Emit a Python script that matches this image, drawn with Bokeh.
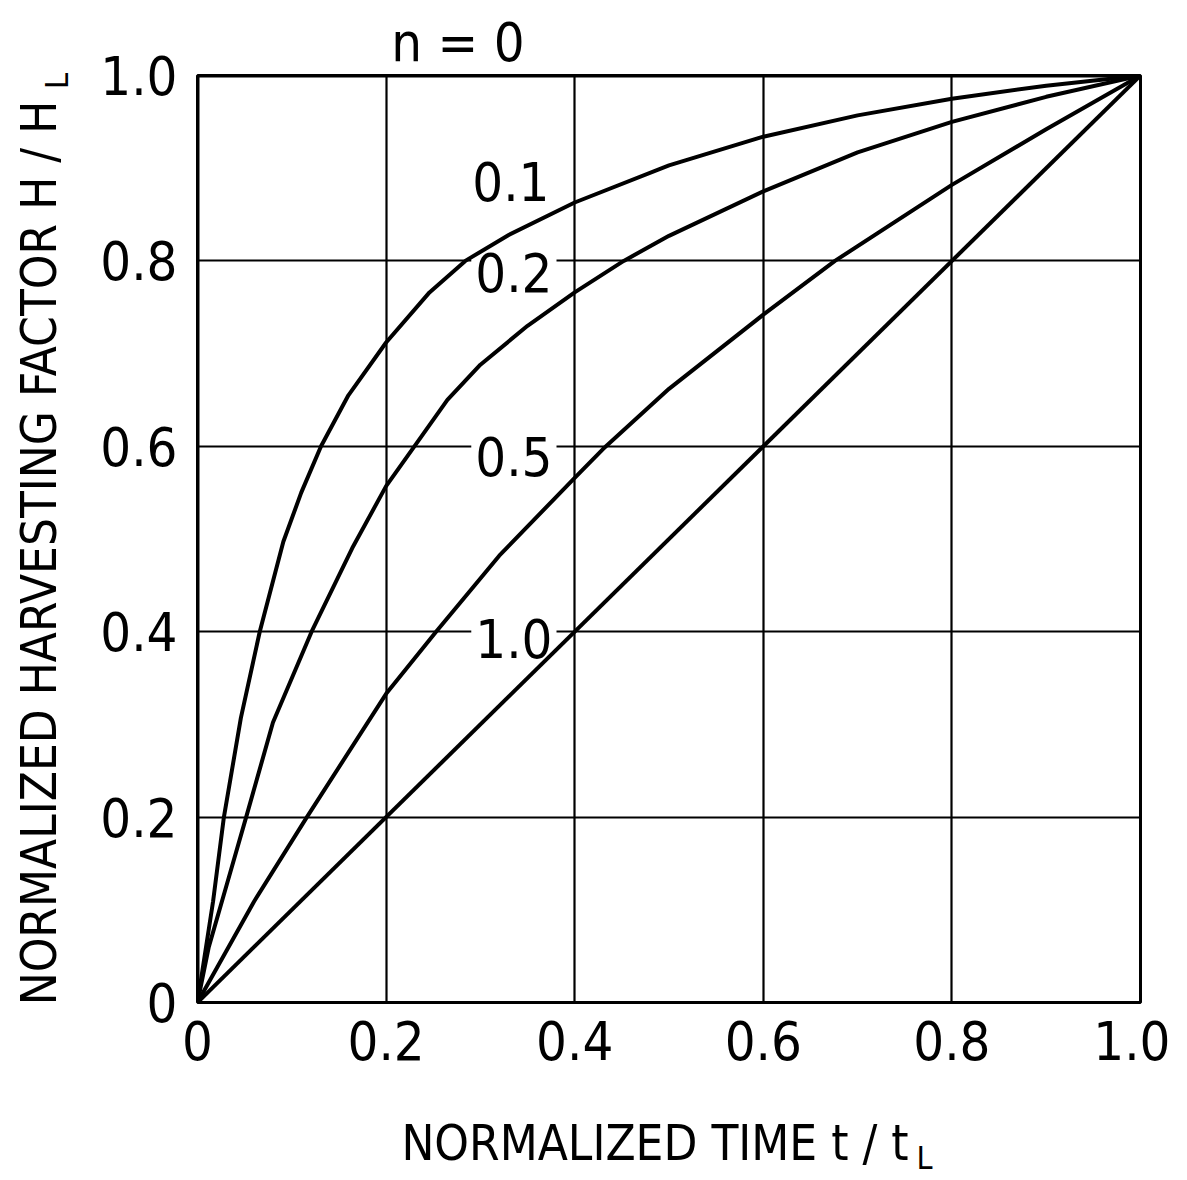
from bokeh.plotting import figure
from bokeh.models import Range1d, FixedTicker, CustomJSTickFormatter, LinearAxis, ColumnDataSource
from bokeh.core.properties import value
from bokeh.embed import file_html
from bokeh.resources import INLINE

# ---- data ----
t_n0 = [0.0, 0.0, 1.0]
h_n0 = [0.0, 1.0, 1.0]

t_n01 = [0.0, 0.0165, 0.028, 0.046, 0.066, 0.091, 0.11, 0.131, 0.16, 0.2, 0.246, 0.284, 0.33, 0.4, 0.5, 0.6, 0.7, 0.8, 0.9, 1.0]
h_n01 = [0.0, 0.109, 0.2, 0.307, 0.4, 0.497, 0.55, 0.6, 0.655, 0.712, 0.766, 0.8, 0.828, 0.863, 0.903, 0.934, 0.957, 0.975, 0.989, 1.0]

t_n02 = [0.0, 0.012, 0.029, 0.0516, 0.080, 0.121, 0.164, 0.2, 0.230, 0.265, 0.3, 0.35, 0.4, 0.452, 0.5, 0.6, 0.7, 0.8, 0.9, 1.0]
h_n02 = [0.0, 0.06, 0.12, 0.2, 0.302, 0.4, 0.49, 0.557, 0.6, 0.65, 0.688, 0.73, 0.766, 0.8, 0.827, 0.875, 0.917, 0.95, 0.977, 1.0]

t_n05 = [0.0, 0.060, 0.116, 0.2, 0.253, 0.32, 0.4, 0.43, 0.5, 0.6, 0.676, 0.8, 0.9, 1.0]
h_n05 = [0.0, 0.109, 0.2, 0.333, 0.4, 0.482, 0.566, 0.597, 0.662, 0.742, 0.8, 0.882, 0.942, 1.0]

t_n10 = [0.0, 1.0]
h_n10 = [0.0, 1.0]

tick_values = [0.0, 0.2, 0.4, 0.6, 0.8, 1.0]
grid_values = [0.2, 0.4, 0.6, 0.8]

curve_labels = ["0.1", "0.2", "0.5", "1.0"]
top_label = "n = 0"
x_title = "NORMALIZED TIME t / t"
y_title = "NORMALIZED HARVESTING FACTOR H / H"
sub_title = "L"

FONT = "DejaVu Sans Condensed"
NB = "\u00a0\u00a0"

p = figure(width=1170, height=1176,
           x_range=Range1d(0, 1), y_range=Range1d(0, 1),
           output_backend="svg", toolbar_location=None,
           min_border_left=197, min_border_right=30,
           min_border_top=75, min_border_bottom=174)

p.background_fill_color = "white"
p.border_fill_color = "white"
p.outline_line_color = "black"
p.outline_line_width = 3


def style_axis(ax, size, standoff):
    ax.axis_line_color = None
    ax.major_tick_line_color = None
    ax.minor_tick_line_color = None
    ax.major_tick_out = 0
    ax.major_tick_in = 0
    ax.minor_tick_out = 0
    ax.major_label_text_font = FONT
    ax.major_label_text_font_size = size
    ax.major_label_text_color = "black"
    ax.major_label_standoff = standoff
    ax.axis_label_text_font = FONT
    ax.axis_label_text_font_style = "normal"
    ax.axis_label_text_color = "black"
    ax.axis_label_text_font_size = "49px"


fmt = CustomJSTickFormatter(code="return tick == 0 ? '0' : tick.toFixed(1);")
for ax in (p.xaxis[0], p.yaxis[0]):
    ax.ticker = FixedTicker(ticks=tick_values)
    ax.formatter = fmt
style_axis(p.xaxis[0], "54px", 18)
style_axis(p.yaxis[0], "54px", 20)

for g in (p.xgrid[0], p.ygrid[0]):
    g.ticker = FixedTicker(ticks=grid_values)
    g.grid_line_color = "black"
    g.grid_line_width = 2.2
    g.grid_line_alpha = 1.0

# "n = 0" above the frame
top_ax = LinearAxis(ticker=FixedTicker(ticks=[0.2762]),
                    formatter=CustomJSTickFormatter(args=dict(lab=top_label), code="return lab;"))
style_axis(top_ax, "54px", 2)
p.add_layout(top_ax, "above")

# x title with subscript
sub_fmt = CustomJSTickFormatter(args=dict(lab=sub_title), code="return lab;")
lx = LinearAxis(ticker=FixedTicker(ticks=[0.771]), formatter=sub_fmt)
style_axis(lx, "32px", 76)
lx.axis_label = x_title + NB
lx.axis_label_standoff = -65
p.add_layout(lx, "below")

# y title with subscript
ly = LinearAxis(ticker=FixedTicker(ticks=[0.994]), formatter=sub_fmt)
style_axis(ly, "32px", 21)
ly.major_label_orientation = "vertical"
ly.axis_label = y_title + NB
ly.axis_label_standoff = -32
p.add_layout(ly, "left")

# curve labels with white boxes (drawn before curves so curves pass over)
lab_src = ColumnDataSource(dict(x=[0.3775, 0.3807, 0.3807, 0.3807],
                                y=[0.8857, 0.7875, 0.5885, 0.3927],
                                text=curve_labels))
p.text(x="x", y="y", text="text", source=lab_src,
       text_font=value(FONT), text_font_size="54px", text_color="black",
       text_align="right", text_baseline="middle",
       background_fill_color="white", padding=4)

for tx, hy in ((t_n0, h_n0), (t_n01, h_n01), (t_n02, h_n02), (t_n05, h_n05), (t_n10, h_n10)):
    p.line(tx, hy, line_color="black", line_width=4, line_join="round")

open("out.html", "w").write(file_html(p, INLINE))
